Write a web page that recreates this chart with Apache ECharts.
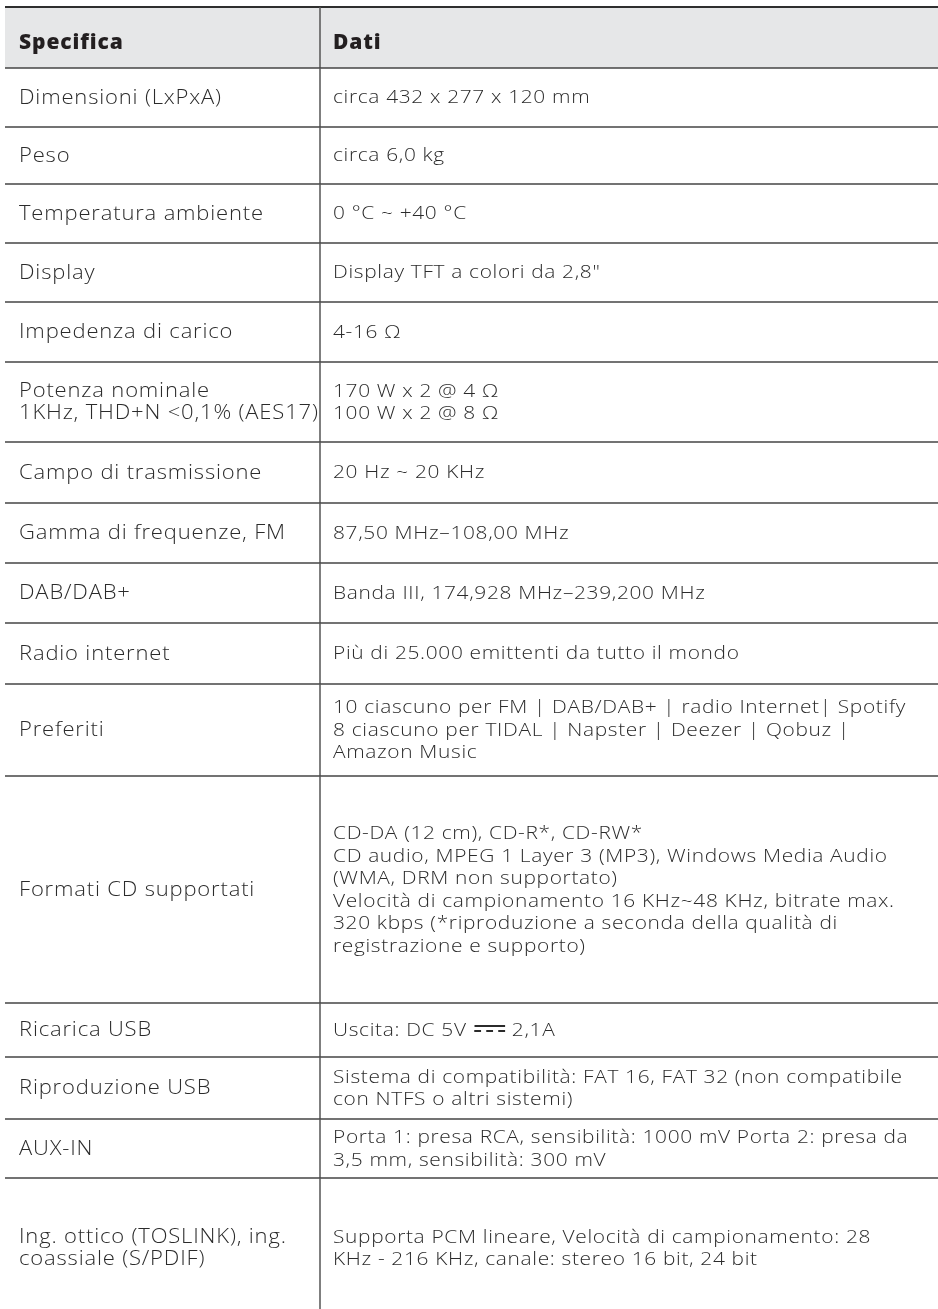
<!DOCTYPE html>
<html>
<head>
<meta charset="utf-8">
<script src="https://cdn.jsdelivr.net/npm/echarts@6/dist/echarts.min.js"></script>
<style>
  html, body { margin: 0; padding: 0; background: #ffffff; }
  #chart { width: 938px; height: 1309px; }
</style>
</head>
<body>
<div id="chart"></div>
<script>
// ---- data ----
const headers = ['Specifica', 'Dati'];
const specs = [
  'Dimensioni (LxPxA)',
  'Peso',
  'Temperatura ambiente',
  'Display',
  'Impedenza di carico',
  'Potenza nominale\n1KHz, THD+N <0,1% (AES17)',
  'Campo di trasmissione',
  'Gamma di frequenze, FM',
  'DAB/DAB+',
  'Radio internet',
  'Preferiti',
  'Formati CD supportati',
  'Ricarica USB',
  'Riproduzione USB',
  'AUX-IN',
  'Ing. ottico (TOSLINK), ing.\ncoassiale (S/PDIF)'
];
const values = [
  'circa 432 x 277 x 120 mm',
  'circa 6,0 kg',
  '0 °C ~ +40 °C',
  'Display TFT a colori da 2,8"',
  '4-16 Ω',
  '170 W x 2 @ 4 Ω\n100 W x 2 @ 8 Ω',
  '20 Hz ~ 20 KHz',
  '87,50 MHz–108,00 MHz',
  'Banda III, 174,928 MHz–239,200 MHz',
  'Più di 25.000 emittenti da tutto il mondo',
  '10 ciascuno per FM | DAB/DAB+ | radio Internet| Spotify\n8 ciascuno per TIDAL | Napster | Deezer | Qobuz |\nAmazon Music',
  'CD-DA (12 cm), CD-R*, CD-RW*\nCD audio, MPEG 1 Layer 3 (MP3), Windows Media Audio\n(WMA, DRM non supportato)\nVelocità di campionamento 16 KHz~48 KHz, bitrate max.\n320 kbps (*riproduzione a seconda della qualità di\nregistrazione e supporto)',
  'Uscita: DC 5V \u2393 2,1A',
  'Sistema di compatibilità: FAT 16, FAT 32 (non compatibile\ncon NTFS o altri sistemi)',
  'Porta 1: presa RCA, sensibilità: 1000 mV Porta 2: presa da\n3,5 mm, sensibilità: 300 mV',
  'Supporta PCM lineare, Velocità di campionamento: 28\nKHz - 216 KHz, canale: stereo 16 bit, 24 bit'
];

// ---- layout / style (not data) ----
const layoutHeights = [61, 59, 57, 59, 59, 60, 80, 61, 60, 60, 61, 92, 227, 54, 62, 59, 140];
const tableWidth = 933;
const dividerX = 315;
const padLeft = 14;
const padRight = 13;
const SIZE_HEAD = 21, SIZE_LEFT = 20, SIZE_RIGHT = 19;
const BODY_STRETCH = 1.1;   // the source typeface is wider than Open Sans
const tracking = { '21px': '0.9px', '20px': '0.75px', '19px': '0.6px' };

(function () {
  const P = CanvasRenderingContext2D.prototype;
  function ls(ctx) {
    if (!('letterSpacing' in ctx)) return;
    const m = /(\d+(?:\.\d+)?px)/.exec(ctx.font || '');
    ctx.letterSpacing = (m && tracking[m[1]]) || '0px';
  }
  const f = P.fillText, mt = P.measureText;
  P.fillText = function () { ls(this); return f.apply(this, arguments); };
  P.measureText = function () { ls(this); return mt.apply(this, arguments); };
})();

const rows = [headers].concat(specs.map((s, i) => [s, values[i]]));
let acc = 0;
const rowData = rows.map((r, i) => {
  const y0 = acc;
  acc += layoutHeights[i];
  return [i, y0, acc];
});
const totalH = acc;

const chart = echarts.init(document.getElementById('chart'), null, { renderer: 'canvas' });
const FONT = '"Open Sans", sans-serif';

function textEl(x, y, txt, base, sx) {
  const el = { type: 'text', x: x, y: y, scaleX: sx, originX: 0, originY: 0 };
  if (txt.indexOf('\u2393') >= 0) {
    const parts = txt.split('\u2393');
    el.style = Object.assign({}, base, {
      text: '{a|' + parts[0] + '}{s|\u2393}{a|' + parts[1] + '}',
      rich: {
        a: { fontFamily: base.fontFamily, fontSize: base.fontSize, fontWeight: base.fontWeight, fill: base.fill, lineHeight: 22.5, verticalAlign: 'middle' },
        s: { fontFamily: '"DejaVu Sans"', fontSize: 38, fill: base.fill, lineHeight: 22.5, verticalAlign: 'middle' }
      }
    });
  } else {
    el.style = Object.assign({ text: txt }, base);
  }
  return el;
}

chart.setOption({
  animation: false,
  backgroundColor: '#ffffff',
  grid: { left: 5, top: 7, width: tableWidth, height: totalH, outerBoundsMode: 'none', containLabel: false },
  xAxis: { type: 'value', min: 0, max: tableWidth, show: false },
  yAxis: { type: 'value', min: 0, max: totalH, inverse: true, show: false },
  series: [{
    type: 'custom',
    clip: false,
    data: rowData,
    renderItem: function (params, api) {
      const i = api.value(0);
      const p0 = api.coord([0, api.value(1)]);
      const p1 = api.coord([tableWidth, api.value(2)]);
      const pd = api.coord([dividerX, 0]);
      const isHead = i === 0;
      const cy = (p0[1] + p1[1]) / 2 + (isHead ? 6 : 0.5);
      const r = rows[i];
      const children = [];
      if (isHead) {
        children.push({ type: 'rect', shape: { x: p0[0], y: p0[1], width: p1[0] - p0[0], height: p1[1] - p0[1] },
          style: { fill: '#e6e7e8' } });
      }
      children.push({ type: 'line', shape: { x1: p0[0], y1: p0[1], x2: p1[0], y2: p0[1] },
        style: { stroke: isHead ? '#2e2e2e' : '#444444', lineWidth: isHead ? 2 : 1.6 } });
      children.push({ type: 'line', shape: { x1: pd[0], y1: p0[1], x2: pd[0], y2: p1[1] },
        style: { stroke: '#555555', lineWidth: 1.5 } });
      const common = {
        fontFamily: FONT,
        fill: isHead ? '#231f20' : '#2b2b2b',
        lineHeight: 22.5,
        verticalAlign: 'middle',
        align: 'left'
      };
      const lt = Object.assign({}, common, { fontSize: isHead ? SIZE_HEAD : SIZE_LEFT, fontWeight: isHead ? 800 : 300 });
      const rt = Object.assign({}, common, { fontSize: isHead ? SIZE_HEAD : SIZE_RIGHT, fontWeight: isHead ? 800 : 300 });
      const sx = isHead ? 1 : BODY_STRETCH;
      children.push(textEl(p0[0] + padLeft, cy, r[0], lt, sx));
      children.push(textEl(pd[0] + padRight, cy, r[1], rt, sx));
      return { type: 'group', children: children };
    }
  }]
});
</script>
</body>
</html>
